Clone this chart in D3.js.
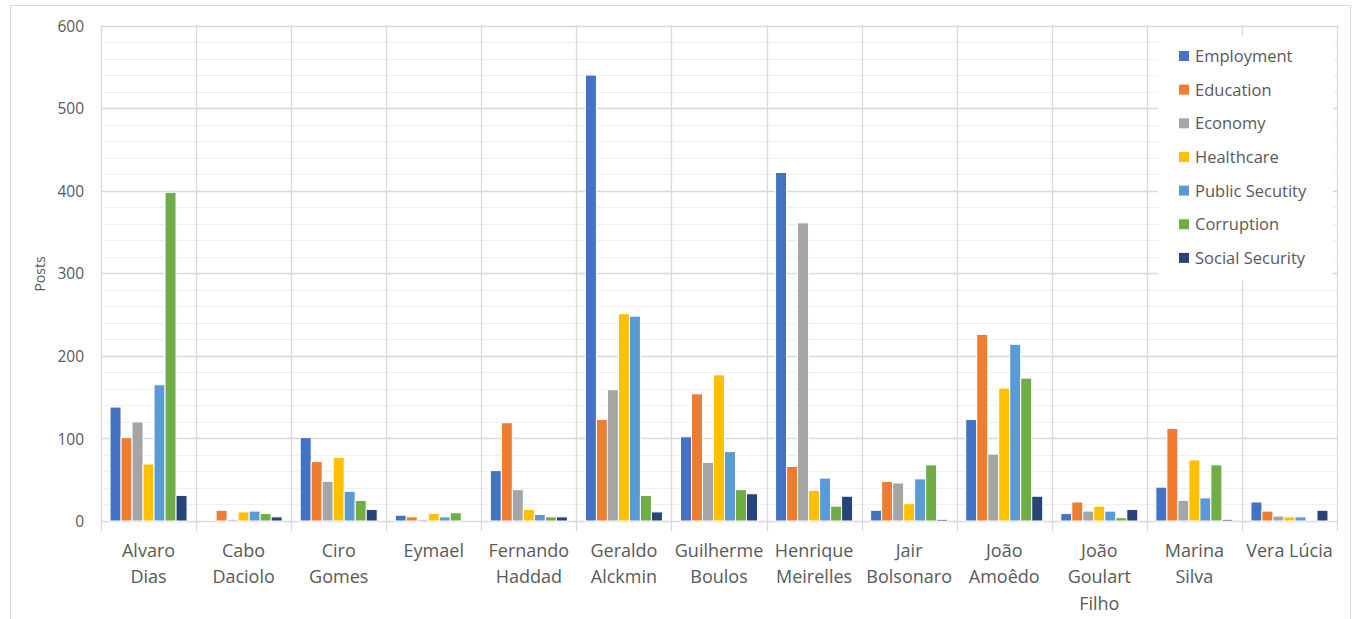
<!DOCTYPE html>
<html>
<head>
<meta charset="utf-8">
<script src="https://cdn.jsdelivr.net/npm/d3@7"></script>
<style>
  html, body { margin: 0; padding: 0; background: #fff; }
  svg { display: block; font-family: "Open Sans", "Noto Sans", sans-serif; }
</style>
</head>
<body>
<svg id="chart" width="1355" height="619"></svg>
<script>
// Candidates on the x axis
const categories = ["Alvaro Dias", "Cabo Daciolo", "Ciro Gomes", "Eymael", "Fernando Haddad",
  "Geraldo Alckmin", "Guilherme Boulos", "Henrique Meirelles", "Jair Bolsonaro",
  "João Amoêdo", "João Goulart Filho", "Marina Silva", "Vera Lúcia"];

// Number of posts per topic, one value per candidate
const employment     = [138, 0, 101, 7, 61, 540, 102, 422, 13, 123, 9, 41, 23];
const education      = [101, 13, 72, 5, 119, 123, 154, 66, 48, 226, 23, 112, 12];
const economy        = [120, 2, 48, 2, 38, 159, 71, 361, 46, 81, 12, 25, 6];
const healthcare     = [69, 11, 77, 9, 14, 251, 177, 37, 21, 161, 18, 74, 5];
const publicSecurity = [165, 12, 36, 5, 8, 248, 84, 52, 51, 214, 12, 28, 5];
const corruption     = [398, 9, 25, 10, 5, 31, 38, 18, 68, 173, 4, 68, 0];
const socialSecurity = [31, 5, 14, 0, 5, 11, 33, 30, 2, 30, 14, 2, 13];

const seriesNames = ["Employment", "Education", "Economy", "Healthcare",
  "Public Secutity", "Corruption", "Social Security"];
const seriesValues = [employment, education, economy, healthcare,
  publicSecurity, corruption, socialSecurity];
const seriesColors = ["#4472C4", "#ED7D31", "#A5A5A5", "#FFC000",
  "#5B9BD5", "#70AD47", "#264478"];

const yTicks = [0, 100, 200, 300, 400, 500, 600];
const yMinorTicks = d3.range(0, 601, 20);

const svg = d3.select("#chart");
const textColor = "#595959";
const gridMajor = "#d9d9d9";
const gridMinor = "#f0f0f0";

const plot = { left: 101, right: 1337, top: 25.5, bottom: 521 };

// Outer chart frame
svg.append("rect")
  .attr("x", 10.5).attr("y", 5.5)
  .attr("width", 1340).attr("height", 630)
  .attr("fill", "#fff").attr("stroke", gridMajor).attr("stroke-width", 1);

const x = d3.scaleBand()
  .domain(categories)
  .range([plot.left, plot.right])
  .paddingInner(0.19)
  .paddingOuter(0.095);

const xSub = d3.scaleBand()
  .domain(seriesNames)
  .range([0, x.bandwidth()]);

const y = d3.scaleLinear().domain([0, 600]).range([plot.bottom, plot.top]);

// Minor and major horizontal gridlines
svg.append("g").selectAll("line")
  .data(yMinorTicks.filter(v => v % 100 !== 0))
  .join("line")
  .attr("x1", plot.left).attr("x2", plot.right)
  .attr("y1", d => Math.round(y(d)) + 0.5).attr("y2", d => Math.round(y(d)) + 0.5)
  .attr("stroke", gridMinor).attr("stroke-width", 1);

svg.append("g").selectAll("line")
  .data(yTicks)
  .join("line")
  .attr("x1", plot.left).attr("x2", plot.right)
  .attr("y1", d => Math.round(y(d)) + 0.5).attr("y2", d => Math.round(y(d)) + 0.5)
  .attr("stroke", gridMajor).attr("stroke-width", 1.3);

// Vertical separators between candidates, running a little below the axis
const step = x.step();
const boundaries = d3.range(categories.length + 1).map(i => plot.left + i * step);
svg.append("g").selectAll("line")
  .data(boundaries)
  .join("line")
  .attr("x1", d => Math.round(d) + 0.5).attr("x2", d => Math.round(d) + 0.5)
  .attr("y1", plot.top).attr("y2", plot.bottom + 10)
  .attr("stroke", gridMajor).attr("stroke-width", 1.3);

// Y axis tick labels
const yAxis = d3.axisLeft(y).tickValues(yTicks).tickSize(0).tickPadding(0);
const yg = svg.append("g")
  .attr("transform", `translate(84,0)`)
  .call(yAxis);
yg.select(".domain").remove();
yg.selectAll("text")
  .attr("fill", textColor)
  .style("font-size", "15.5px")
  .style("font-family", '"Open Sans", sans-serif')
  .attr("dy", "0.36em");

// Y axis title
svg.append("text")
  .attr("transform", "translate(45,274) rotate(-90)")
  .attr("text-anchor", "middle")
  .attr("fill", textColor)
  .style("font-size", "14px")
  .text("Posts");

// Bars
const groups = svg.append("g").selectAll("g")
  .data(categories)
  .join("g")
  .attr("transform", d => `translate(${x(d)},0)`);

groups.selectAll("rect")
  .data((c, ci) => seriesNames.map((s, si) => ({ series: s, value: seriesValues[si][ci], color: seriesColors[si] })))
  .join("rect")
  .filter(d => d.value > 0)
  .attr("x", d => xSub(d.series))
  .attr("y", d => y(d.value))
  .attr("width", xSub.bandwidth())
  .attr("height", d => y(0) - y(d.value))
  .attr("fill", d => d.color)
  .attr("stroke", "#fff")
  .attr("stroke-width", 1);

// Category labels, wrapped word by word to fit the band
const labelG = svg.append("g");
const maxWidth = 90;
categories.forEach(name => {
  const t = labelG.append("text")
    .attr("text-anchor", "middle")
    .attr("fill", textColor)
    .style("font-size", "18px");
  const cx = x(name) + x.bandwidth() / 2;
  const words = name.split(" ");
  const lines = [];
  let current = "";
  const probe = labelG.append("text").style("font-size", "18px");
  words.forEach(w => {
    const trial = current ? current + " " + w : w;
    probe.text(trial);
    if (current && probe.node().getComputedTextLength() > maxWidth) {
      lines.push(current);
      current = w;
    } else {
      current = trial;
    }
  });
  lines.push(current);
  probe.remove();
  lines.forEach((line, i) => {
    t.append("tspan")
      .attr("x", cx)
      .attr("y", 556.5 + i * 26.5)
      .text(line);
  });
});

// Legend box drawn over the gridlines
const legend = svg.append("g");
legend.append("rect")
  .attr("x", 1158).attr("y", 36)
  .attr("width", 175).attr("height", 244)
  .attr("fill", "#fff");

const legendRows = legend.selectAll("g.row")
  .data(seriesNames)
  .join("g")
  .attr("class", "row")
  .attr("transform", (d, i) => `translate(1179,${56 + i * 33.65})`);

legendRows.append("rect")
  .attr("x", 0).attr("y", -5)
  .attr("width", 10).attr("height", 10)
  .attr("fill", (d, i) => seriesColors[i]);

legendRows.append("text")
  .attr("x", 16).attr("y", 0)
  .attr("dy", "0.36em")
  .attr("fill", textColor)
  .style("font-size", "16.5px")
  .text(d => d);
</script>
</body>
</html>
